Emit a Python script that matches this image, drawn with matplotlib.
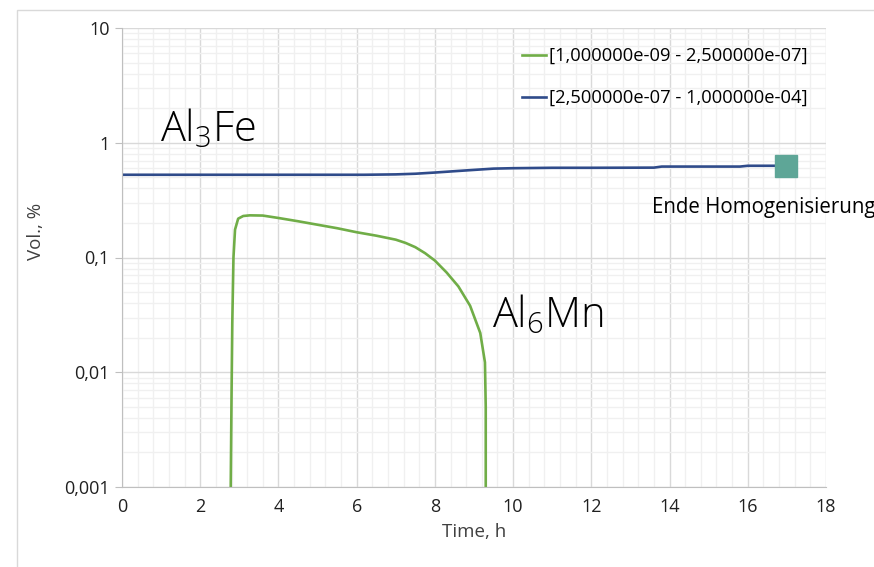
import matplotlib.pyplot as plt
from matplotlib.patches import Rectangle
from matplotlib.ticker import FixedLocator, MultipleLocator, NullFormatter

plt.rcParams['font.family'] = ['Open Sans', 'DejaVu Sans']

# green curve: [1e-09 - 2.5e-07]
t_small = [2.78, 2.80, 2.82, 2.85, 2.89, 2.97, 3.10, 3.27, 3.6, 4.0, 4.5, 5.0, 5.5, 6.0,
           6.5, 7.0, 7.25, 7.5, 7.75, 8.0, 8.3, 8.6, 8.9, 9.16, 9.28, 9.30, 9.30]
v_small = [0.001, 0.006, 0.027, 0.10, 0.175, 0.218, 0.23, 0.233, 0.232, 0.221, 0.207,
           0.193, 0.18, 0.166, 0.155, 0.143, 0.134, 0.123, 0.109, 0.094, 0.074, 0.056,
           0.038, 0.022, 0.0122, 0.005, 0.001]

# blue curve: [2.5e-07 - 1e-04]
t_large = [0, 6.2, 7.0, 7.5, 8.0, 8.5, 9.0, 9.5, 10.0, 11.0, 12.0, 13.6, 13.8, 15.8, 16.0, 16.7]
v_large = [0.526, 0.526, 0.53, 0.537, 0.55, 0.565, 0.58, 0.595, 0.60, 0.605, 0.605,
           0.607, 0.62, 0.62, 0.63, 0.63]

end_t = 16.97
end_v = 0.63

labels = ['[1,000000e-09 - 2,500000e-07]', '[2,500000e-07 - 1,000000e-04]']
y_ticks = [0.001, 0.01, 0.1, 1, 10]
y_ticklabels = ['0,001', '0,01', '0,1', '1', '10']

fig = plt.figure(figsize=(8.74, 5.67), dpi=100)
ax = fig.add_axes([122 / 874, 1 - 487 / 567, 704 / 874, 459 / 567])

fig.patches.append(Rectangle((17 / 874, -0.1), 1.2, 1.1 - 10 / 567, transform=fig.transFigure,
                             fill=False, edgecolor='#d9d9d9', linewidth=1, zorder=0))

ax.plot(t_small, v_small, color='#70ad47', lw=1.9, label=labels[0], solid_joinstyle='round')
ax.plot(t_large, v_large, color='#2f4b8a', lw=1.9, label=labels[1])
ax.plot([end_t], [end_v], marker='s', ms=16, color='#5ea697', linestyle='none', clip_on=False)

ax.set_yscale('log')
ax.set_xlim(0, 18)
ax.set_ylim(0.001, 10)
ax.xaxis.set_major_locator(MultipleLocator(2))
ax.xaxis.set_minor_locator(MultipleLocator(0.4))
ax.yaxis.set_major_locator(FixedLocator(y_ticks))
ax.set_yticklabels(y_ticklabels)
ax.yaxis.set_minor_formatter(NullFormatter())

ax.grid(which='major', color='#d9d9d9', lw=1)
ax.grid(which='minor', color='#f0f0f0', lw=1)
ax.set_axisbelow(True)

for s in ['top', 'right']:
    ax.spines[s].set_visible(False)
for s in ['left', 'bottom']:
    ax.spines[s].set_color('#bfbfbf')

ax.tick_params(axis='y', which='major', length=5, color='#bfbfbf', labelsize=13, pad=4)
ax.tick_params(axis='y', which='minor', length=0)
ax.tick_params(axis='x', which='both', length=0, labelsize=13, pad=8)

ax.set_xlabel('Time, h', fontsize=13.5, color='#404040', labelpad=5)
ax.set_ylabel('Vol., %', fontsize=13.5, color='#404040')
ax.yaxis.set_label_coords(-0.11, 0.556)
for lab in ax.get_xticklabels() + ax.get_yticklabels():
    lab.set_color('#202020')

ax.text(160 / 874, 1 - 141 / 567, r'Al$_\mathregular{3}$Fe', transform=fig.transFigure,
        fontsize=30, fontweight='light', color='black', ha='left', va='baseline')
ax.text(492 / 874, 1 - 327 / 567, r'Al$_\mathregular{6}$Mn', transform=fig.transFigure,
        fontsize=30, fontweight='light', color='black', ha='left', va='baseline')
ax.text(652 / 874, 1 - 208 / 567, 'Ende Homogenisierung', transform=fig.transFigure,
        fontsize=14.8, color='black', ha='left', va='center')

ax.legend(loc='upper left', bbox_to_anchor=(0.548, 0.99), frameon=False, fontsize=13.2,
          handlelength=1.3, handletextpad=0.15, labelspacing=1.3, borderpad=0.3)

fig.savefig('out.png', dpi=100)
